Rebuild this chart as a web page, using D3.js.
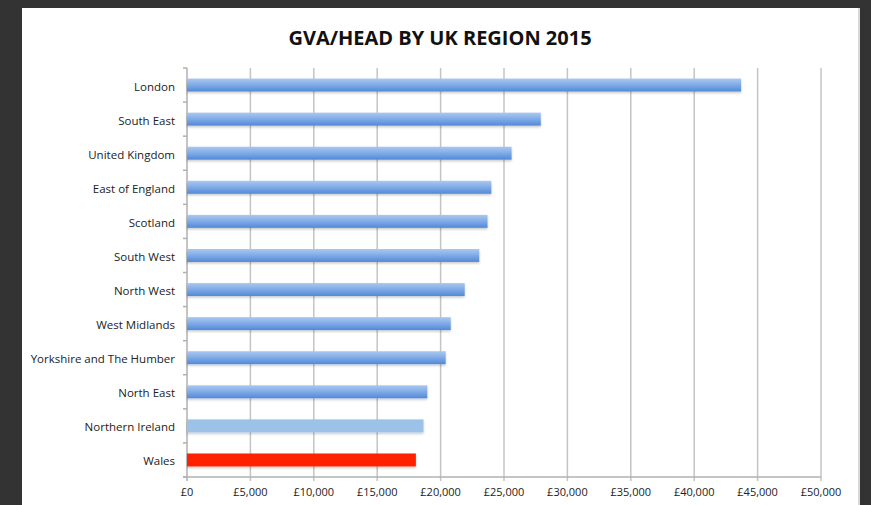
<!DOCTYPE html>
<html>
<head>
<meta charset="utf-8">
<script src="https://cdn.jsdelivr.net/npm/d3@7"></script>
<style>
  body { margin: 0; background: #333333; }
  svg { display: block; }
  text { font-family: "Open Sans", Lato, sans-serif; fill: #222; }
</style>
</head>
<body>
<script>
// data
var regions = ["London", "South East", "United Kingdom", "East of England", "Scotland",
               "South West", "North West", "West Midlands", "Yorkshire and The Humber",
               "North East", "Northern Ireland", "Wales"];
var gva = [43700, 27900, 25600, 24000, 23700, 23050, 21900, 20800, 20400, 18950, 18650, 18050];
var xTicks = [0, 5000, 10000, 15000, 20000, 25000, 30000, 35000, 40000, 45000, 50000];

var width = 871,
    height = 505;

var margin = {left: 187, right: 50, top: 68, bottom: 28};

var svg = d3.select("body").append("svg")
    .attr("width", width)
    .attr("height", height);

// white panel
svg.append("rect")
    .attr("x", 22).attr("y", 8)
    .attr("width", 838).attr("height", height)
    .attr("fill", "#d8d8d8");
svg.append("rect")
    .attr("x", 22).attr("y", 8)
    .attr("width", 836).attr("height", height)
    .attr("fill", "#ffffff");

var defs = svg.append("defs");
var grad = defs.append("linearGradient")
    .attr("id", "blueGrad")
    .attr("x1", 0).attr("y1", 0).attr("x2", 0).attr("y2", 1);
grad.append("stop").attr("offset", "0%").attr("stop-color", "#a9c8f0");
grad.append("stop").attr("offset", "45%").attr("stop-color", "#84ade8");
grad.append("stop").attr("offset", "100%").attr("stop-color", "#5189d8");

var shadow = defs.append("filter").attr("id", "shadow")
    .attr("x", "-5%").attr("y", "-50%").attr("width", "110%").attr("height", "200%");
shadow.append("feDropShadow")
    .attr("dx", 0).attr("dy", 1.5).attr("stdDeviation", 1.2)
    .attr("flood-color", "#000").attr("flood-opacity", 0.22);

var x = d3.scaleLinear()
    .domain([0, 50000])
    .range([margin.left, width - margin.right]);

var y = d3.scaleBand()
    .domain(regions)
    .range([margin.top, height - margin.bottom])
    .paddingInner(0.62)
    .paddingOuter(0.31);

var plotBottom = height - margin.bottom;

// gridlines
svg.append("g")
    .selectAll("line")
    .data(xTicks.slice(1))
    .enter().append("line")
    .attr("x1", function(d) { return x(d); })
    .attr("x2", function(d) { return x(d); })
    .attr("y1", margin.top)
    .attr("y2", plotBottom + 4)
    .attr("stroke", "#c4c4c4")
    .attr("stroke-width", 1.5);

// left axis line and ticks between categories
svg.append("line")
    .attr("x1", x(0)).attr("x2", x(0))
    .attr("y1", margin.top).attr("y2", plotBottom + 4)
    .attr("stroke", "#b0b0b0").attr("stroke-width", 1.5);

var step = (plotBottom - margin.top) / regions.length;
svg.append("g")
    .selectAll("line")
    .data(d3.range(regions.length + 1))
    .enter().append("line")
    .attr("x1", x(0) - 4).attr("x2", x(0))
    .attr("y1", function(i) { return margin.top + i * step; })
    .attr("y2", function(i) { return margin.top + i * step; })
    .attr("stroke", "#b0b0b0").attr("stroke-width", 1.5);

// bottom axis line
svg.append("line")
    .attr("x1", x(0) - 4).attr("x2", x(50000))
    .attr("y1", plotBottom).attr("y2", plotBottom)
    .attr("stroke", "#b0b0b0").attr("stroke-width", 1.5);

// bars
svg.append("g")
    .selectAll("rect")
    .data(regions)
    .enter().append("rect")
    .attr("x", x(0))
    .attr("y", function(d) { return y(d); })
    .attr("width", function(d, i) { return x(gva[i]) - x(0); })
    .attr("height", y.bandwidth())
    .attr("filter", "url(#shadow)")
    .attr("fill", function(d) {
        if (d == "Wales") { return "#ff2200"; }
        else if (d == "Northern Ireland") { return "#9cc2e8"; }
        return "url(#blueGrad)";
    });

// category labels
svg.append("g")
    .selectAll("text")
    .data(regions)
    .enter().append("text")
    .attr("x", 175)
    .attr("y", function(d) { return y(d) + y.bandwidth() / 2 + 1.5; })
    .attr("dy", "0.35em")
    .attr("text-anchor", "end")
    .style("font-size", "11.5px")
    .text(function(d) { return d; });

// x tick labels
svg.append("g")
    .selectAll("text")
    .data(xTicks)
    .enter().append("text")
    .attr("x", function(d) { return x(d); })
    .attr("y", plotBottom + 19)
    .attr("text-anchor", "middle")
    .style("font-size", "11px")
    .text(function(d) { return "£" + d3.format(",")(d); });

// title
svg.append("text")
    .attr("x", 440)
    .attr("y", 45)
    .attr("text-anchor", "middle")
    .style("font-size", "20px")
    .style("font-weight", "bold")
    .style("fill", "#111")
    .text("GVA/HEAD BY UK REGION 2015");
</script>
</body>
</html>
